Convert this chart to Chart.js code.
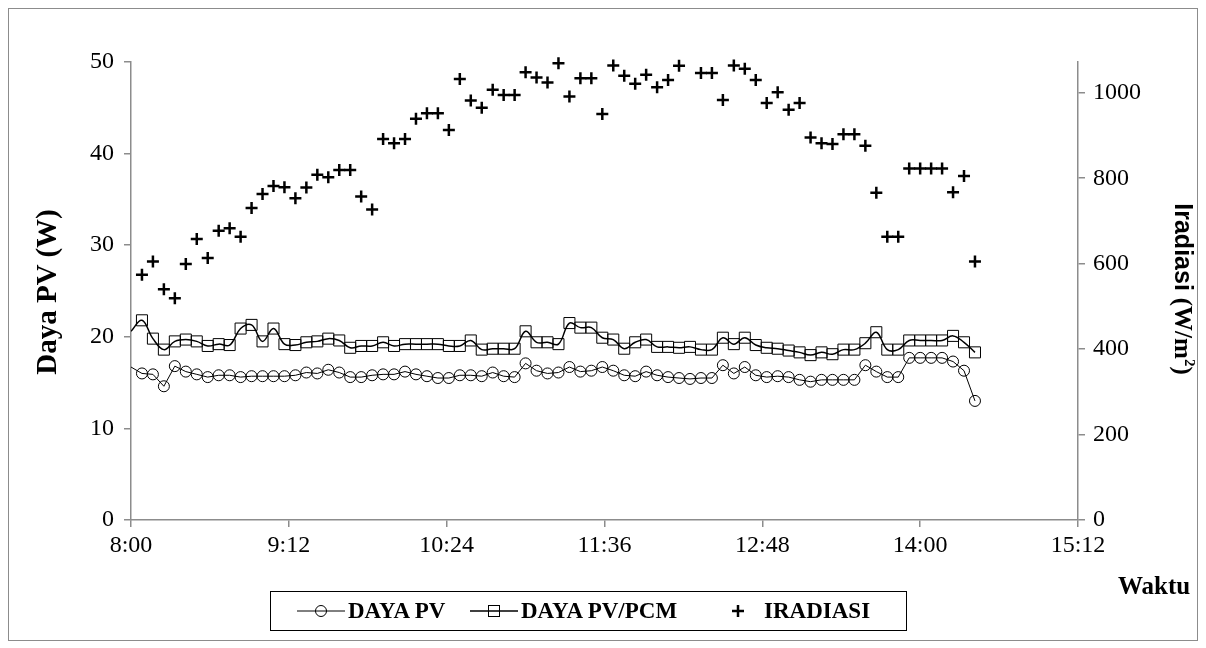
<!DOCTYPE html>
<html>
<head>
<meta charset="utf-8">
<script src="https://cdn.jsdelivr.net/npm/chart.js@4.4.1/dist/chart.umd.min.js"></script>
<style>
    body { margin: 0; background: #fff; }
    #wrap { position: relative; width: 1206px; height: 648px; }
    #frame { position: absolute; left: 8px; top: 8px; width: 1190px; height: 633px; border: 1px solid #8c8c8c; box-sizing: border-box; }
    .title { position: absolute; white-space: nowrap; color: #000; }
    #titleLeft { left: 46px; top: 292px; transform: translate(-50%, -50%) rotate(-90deg); font: bold 29px 'Liberation Serif'; }
    #titleRight { left: 1183px; top: 289px; transform: translate(-50%, -50%) rotate(90deg); font: bold 25px 'Liberation Sans'; }
    #titleRight .serif { font-family: 'Liberation Serif'; }
    #titleRight sup { font-size: 15px; vertical-align: 10px; }
    #waktu { left: 1118px; top: 572px; font: bold 25px 'Liberation Serif'; }
    #legend { position: absolute; left: 270px; top: 591px; width: 637px; height: 40px; border: 1.5px solid #000; box-sizing: border-box; }
    .item { position: absolute; top: 0; height: 37px; display: flex; align-items: center; font: bold 23px 'Liberation Serif'; }
    .item svg { margin-right: 3px; }
</style>
</head>
<body>
<div id="wrap">
    <canvas id="chartDaya" width="1206" height="648" style="width:1206px;height:648px"></canvas>
    <div id="frame"></div>
    <div class="title" id="titleLeft">Daya PV (W)</div>
    <div class="title" id="titleRight">Iradiasi <span class="serif">(W/m<sup>2</sup>)</span></div>
    <div class="title" id="waktu">Waktu</div>
    <div id="legend">
        <div class="item" style="left:26px">
            <svg width="48" height="16"><line x1="0" y1="8" x2="48" y2="8" stroke="#000" stroke-width="1"/><circle cx="24" cy="8" r="5.5" fill="none" stroke="#000" stroke-width="1"/></svg>DAYA PV
        </div>
        <div class="item" style="left:199px">
            <svg width="48" height="16"><line x1="0" y1="8" x2="48" y2="8" stroke="#000" stroke-width="1.5"/><rect x="18.5" y="2.5" width="11" height="11" fill="none" stroke="#000" stroke-width="1"/></svg>DAYA PV/PCM
        </div>
        <div class="item" style="left:459px">
            <svg width="16" height="16" style="margin-right:18px"><line x1="2" y1="8" x2="14" y2="8" stroke="#000" stroke-width="2.5"/><line x1="8" y1="2" x2="8" y2="14" stroke="#000" stroke-width="2.5"/></svg>IRADIASI
        </div>
    </div>
</div>
<script>
// Waktu pengukuran (tiap 5 menit)
const times = ['8:00', '8:05', '8:10', '8:15', '8:20', '8:25', '8:30', '8:35', '8:40', '8:45', '8:50', '8:55',
    '9:00', '9:05', '9:10', '9:15', '9:20', '9:25', '9:30', '9:35', '9:40', '9:45', '9:50', '9:55',
    '10:00', '10:05', '10:10', '10:15', '10:20', '10:25', '10:30', '10:35', '10:40', '10:45', '10:50', '10:55',
    '11:00', '11:05', '11:10', '11:15', '11:20', '11:25', '11:30', '11:35', '11:40', '11:45', '11:50', '11:55',
    '12:00', '12:05', '12:10', '12:15', '12:20', '12:25', '12:30', '12:35', '12:40', '12:45', '12:50', '12:55',
    '13:00', '13:05', '13:10', '13:15', '13:20', '13:25', '13:30', '13:35', '13:40', '13:45', '13:50', '13:55',
    '14:00', '14:05', '14:10', '14:15', '14:20', '14:25'];

// Daya PV (W)
const dayaPV = [16.7, 16.0, 15.9, 14.6, 16.8, 16.2, 15.9, 15.6, 15.8, 15.8, 15.6, 15.7,
    15.7, 15.7, 15.7, 15.8, 16.1, 16.0, 16.4, 16.1, 15.6, 15.6, 15.8, 15.9,
    15.9, 16.2, 15.9, 15.7, 15.5, 15.5, 15.8, 15.8, 15.7, 16.1, 15.7, 15.6,
    17.1, 16.3, 16.0, 16.1, 16.7, 16.2, 16.3, 16.7, 16.3, 15.8, 15.7, 16.2,
    15.8, 15.6, 15.5, 15.4, 15.5, 15.5, 16.9, 16.0, 16.7, 15.8, 15.6, 15.7,
    15.6, 15.3, 15.1, 15.3, 15.3, 15.3, 15.3, 16.9, 16.2, 15.6, 15.6, 17.7,
    17.7, 17.7, 17.7, 17.3, 16.3, 13.0];

// Daya PV/PCM (W)
const dayaPCM = [20.6, 21.8, 19.8, 18.6, 19.5, 19.7, 19.5, 19.0, 19.2, 19.1, 20.9, 21.3,
    19.5, 20.9, 19.2, 19.1, 19.4, 19.5, 19.8, 19.6, 18.8, 19.0, 19.0, 19.4,
    19.0, 19.2, 19.2, 19.2, 19.2, 19.0, 19.0, 19.6, 18.6, 18.7, 18.7, 18.7,
    20.6, 19.4, 19.4, 19.2, 21.5, 21.0, 21.0, 19.9, 19.7, 18.7, 19.4, 19.7,
    18.9, 18.9, 18.8, 18.9, 18.6, 18.6, 19.9, 19.2, 19.9, 19.1, 18.8, 18.7,
    18.5, 18.3, 18.0, 18.3, 18.1, 18.6, 18.6, 19.3, 20.5, 18.6, 18.6, 19.6,
    19.6, 19.6, 19.6, 20.1, 19.4, 18.3];

// Iradiasi (W/m2)
const iradiasi = [null, 574, 605, 540, 519, 599, 658, 613, 677, 683, 663, 730,
    763, 782, 779, 753, 778, 808, 802, 819, 819, 757, 727, 892,
    882, 892, 939, 952, 952, 913, 1032, 982, 965, 1007, 995, 995,
    1048, 1036, 1024, 1069, 991, 1034, 1034, 950, 1064, 1040, 1021, 1042,
    1013, 1030, 1063, null, 1046, 1046, 983, 1064, 1056, 1030, 976, 1001,
    960, 976, 895, 882, 880, 903, 903, 876, 766, 663, 663, 823,
    823, 823, 823, 767, 805, 605];

const toMinutes = t => {
    const [h, m] = t.split(':').map(Number);
    return (h - 8) * 60 + m;
};
const toLabel = v => {
    const total = 8 * 60 + v;
    return Math.floor(total / 60) + ':' + String(total % 60).padStart(2, '0');
};
const points = arr => times.map((t, i) => ({ x: toMinutes(t), y: arr[i] }));

const tickFont = { family: 'Liberation Serif', size: 24 };
const axisGray = '#8c8c8c';

new Chart(document.getElementById('chartDaya').getContext('2d'), {
    type: 'scatter',
    data: {
        datasets: [{
            label: 'DAYA PV',
            data: points(dayaPV),
            showLine: true,
            borderColor: '#000',
            borderWidth: 1,
            tension: 0,
            pointStyle: 'circle',
            pointRadius: ctx => ctx.dataIndex === 0 ? 0 : 5.5,
            pointBorderColor: '#000',
            pointBackgroundColor: 'rgba(0,0,0,0)',
            pointBorderWidth: 1,
            yAxisID: 'y'
        }, {
            label: 'DAYA PV/PCM',
            data: points(dayaPCM),
            showLine: true,
            borderColor: '#000',
            borderWidth: 1.5,
            tension: 0.4,
            pointStyle: 'rect',
            pointRadius: ctx => ctx.dataIndex === 0 ? 0 : 7.8,
            pointBorderColor: '#000',
            pointBackgroundColor: 'rgba(0,0,0,0)',
            pointBorderWidth: 1,
            yAxisID: 'y'
        }, {
            label: 'IRADIASI',
            data: points(iradiasi),
            showLine: false,
            clip: 10,
            pointStyle: 'cross',
            pointRadius: 6,
            pointBorderColor: '#000',
            pointBorderWidth: 2.5,
            yAxisID: 'y1'
        }]
    },
    options: {
        responsive: false,
        animation: false,
        events: [],
        layout: {
            padding: { left: 70, right: 60, top: 62, bottom: 0 }
        },
        plugins: {
            legend: { display: false },
            tooltip: { enabled: false }
        },
        scales: {
            x: {
                type: 'linear',
                min: 0,
                max: 432,
                afterFit: scale => { scale.height = 128; },
                grid: { drawOnChartArea: false, drawTicks: true, tickLength: 7, color: axisGray, lineWidth: 1.5 },
                border: { color: axisGray, width: 1.5 },
                ticks: {
                    stepSize: 72,
                    padding: 4,
                    color: '#000',
                    font: tickFont,
                    maxRotation: 0,
                    callback: v => toLabel(v)
                }
            },
            y: {
                position: 'left',
                min: 0,
                max: 50,
                afterFit: scale => { scale.width = 61; },
                grid: { drawOnChartArea: false, drawTicks: true, tickLength: 7, color: axisGray, lineWidth: 1.5 },
                border: { color: axisGray, width: 1.5 },
                ticks: { stepSize: 10, padding: 10, color: '#000', font: tickFont, callback: v => String(v) }
            },
            y1: {
                position: 'right',
                min: 0,
                max: 1072,
                afterFit: scale => { scale.width = 68; },
                grid: { drawOnChartArea: false, drawTicks: true, tickLength: 7, color: axisGray, lineWidth: 1.5 },
                border: { color: axisGray, width: 1.5 },
                ticks: { stepSize: 200, includeBounds: false, padding: 8, color: '#000', font: tickFont, callback: v => String(v) }
            }
        }
    }
});
</script>
</body>
</html>
